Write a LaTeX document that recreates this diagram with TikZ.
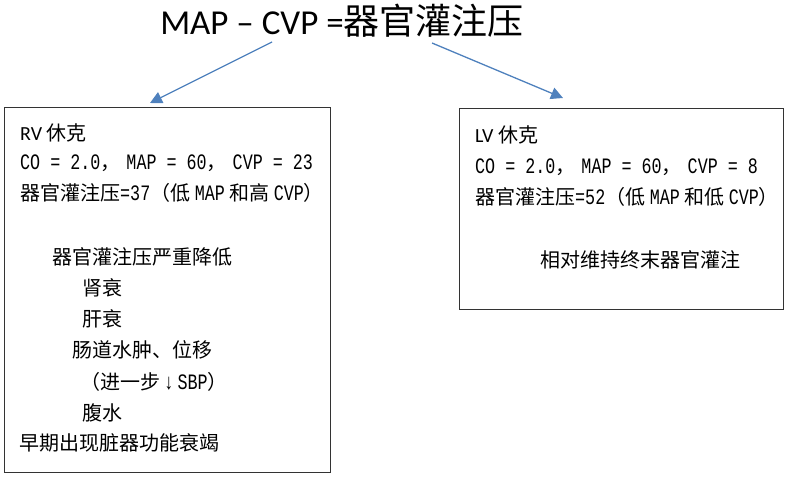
\documentclass[tikz,border=0pt]{standalone}
\usepackage{fontspec}
\setmainfont{Carlito}
\newfontfamily\cjk{Noto Sans CJK SC}
\newfontfamily\mono[FakeStretch=0.76]{Liberation Mono}
\usetikzlibrary{arrows.meta,positioning}
\definecolor{arrowblue}{RGB}{79,129,189}
\newcommand{\lat}[1]{{\mono\fontsize{22}{24}\selectfont #1}}
\newcommand{\cm}{，\hspace{6pt}}

\begin{document}
\begin{tikzpicture}[x=1pt,y=-1pt,
    txt/.style={anchor=west, inner sep=0pt, font=\cjk\fontsize{20}{24}\selectfont},
    shockbox/.style={draw=black!80, line width=1pt, anchor=north west, inner sep=0pt},
    link/.style={-{Triangle[length=12pt,width=12pt]}, draw=arrowblue, fill=arrowblue, line width=1.3pt}]
    \useasboundingbox (0,0) rectangle (786,476);

    % Title
    \node[inner sep=0pt] (title) at (342,21) {\fontsize{35}{40}\selectfont MAP -- CVP =\cjk\fontsize{36}{40}\selectfont 器官灌注压};

    % Boxes
    \node[shockbox, minimum width=326pt, minimum height=365pt] (rv) at (4,107) {};
    \node[shockbox, minimum width=324pt, minimum height=201pt] (lv) at (459,108) {};

    % Arrows from title to boxes
    \coordinate (lstart) at (272,42);
    \coordinate (rstart) at (432,43);
    \coordinate (lend) at (150,103);
    \coordinate (rend) at (563,98);
    \draw[link] (lstart) -- (lend);
    \draw[link] (rstart) -- (rend);

    % RV shock
    \node[txt] (rv1) at (20,133) {{\rmfamily\fontsize{20}{24}\selectfont RV} 休克};
    \node[txt] (rv2) at (20,163) {\lat{CO = 2.0}\cm\lat{MAP = 60}\cm\lat{CVP = 23}};
    \node[txt] (rv3) at (20,193) {器官灌注压\lat{=37}（低 \lat{MAP} 和高 \lat{CVP}）};
    \node[txt] (rv4) at (52,257) {器官灌注压严重降低};
    \node[txt] (rv5) at (82,288) {肾衰};
    \node[txt] (rv6) at (82,319) {肝衰};
    \node[txt] (rv7) at (72,350) {肠道水肿、位移};
    \node[txt] (rv8) at (80,382) {（进一步\lat{\,↓\,SBP}）};
    \node[txt] (rv9) at (82,413) {腹水};
    \node[txt] (rv10) at (19,443) {早期出现脏器功能衰竭};

    % LV shock
    \node[txt] (lv1) at (475,135) {{\rmfamily\fontsize{20}{24}\selectfont LV} 休克};
    \node[txt] (lv2) at (475,167) {\lat{CO = 2.0}\cm\lat{MAP = 60}\cm\lat{CVP = 8}};
    \node[txt] (lv3) at (475,197) {器官灌注压\lat{=52}（低 \lat{MAP} 和低 \lat{CVP}）};
    \node[txt] (lv4) at (540,260) {相对维持终末器官灌注};
\end{tikzpicture}
\end{document}
